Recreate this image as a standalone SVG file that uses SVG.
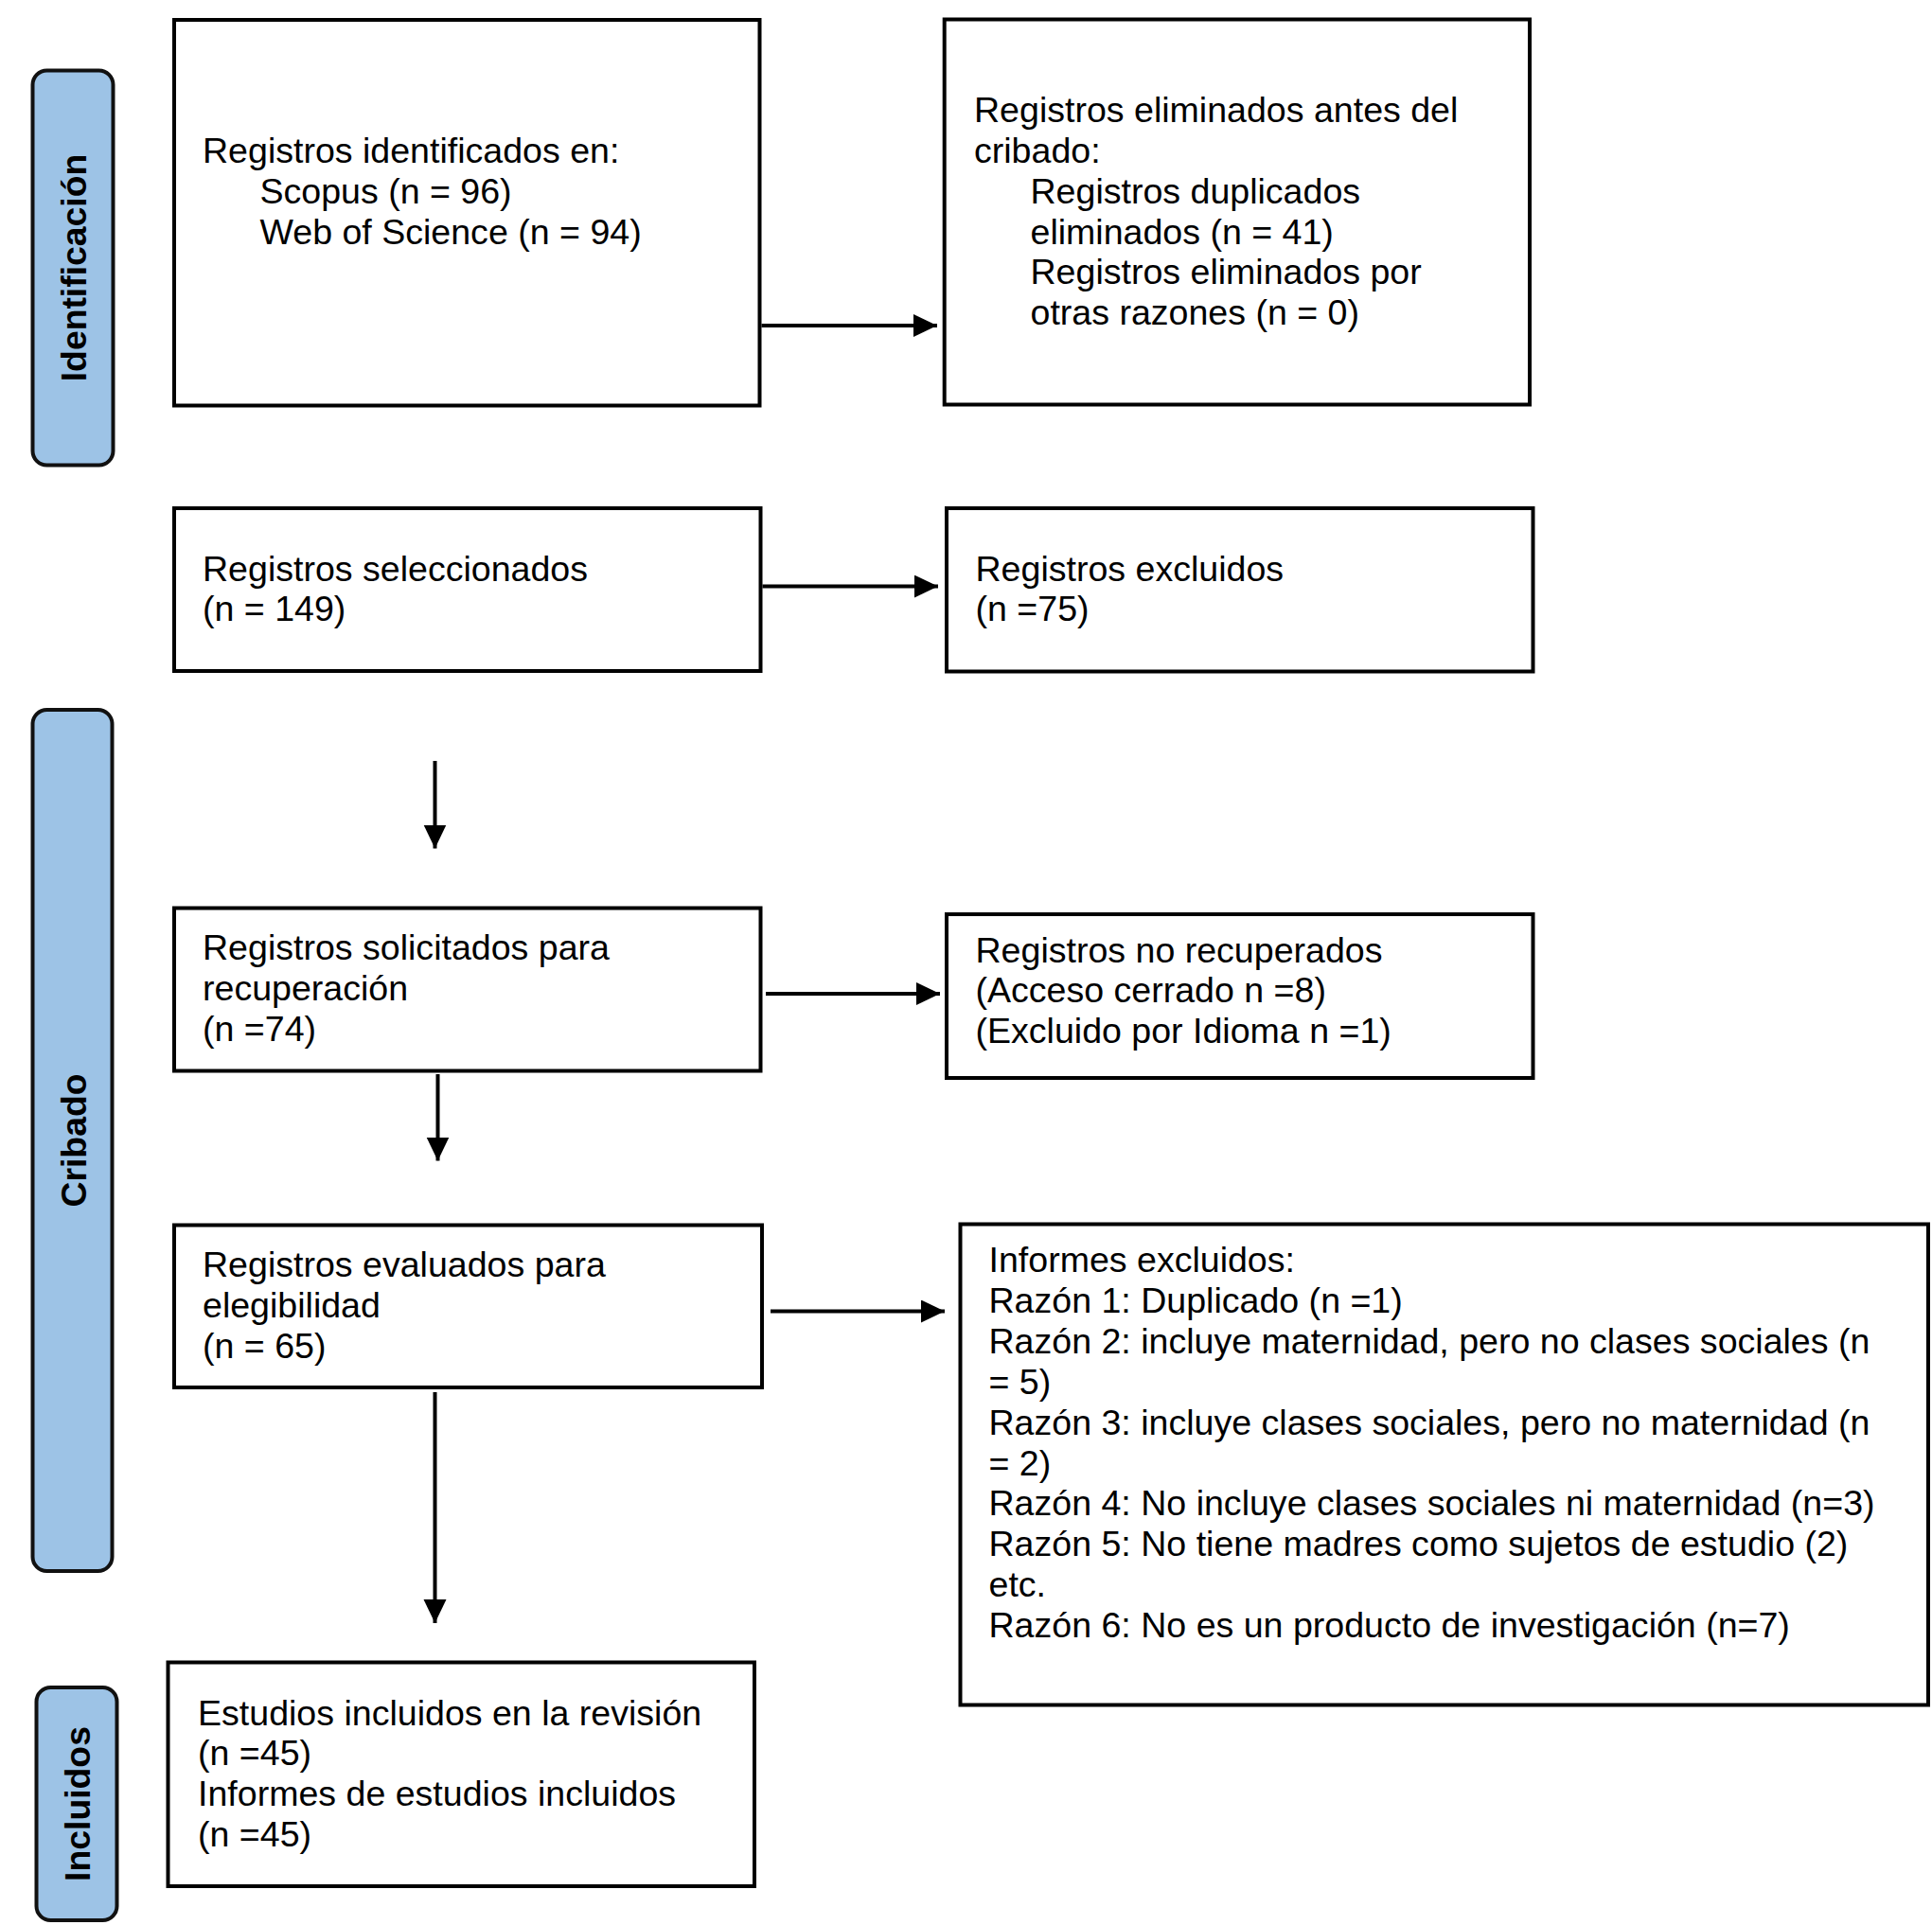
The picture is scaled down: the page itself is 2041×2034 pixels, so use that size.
<svg xmlns="http://www.w3.org/2000/svg" width="2041" height="2034" viewBox="0 0 2041 2034">
<style>
.box{fill:#fff;stroke:#000;stroke-width:4}
.pill{fill:#9DC3E6;stroke:#111;stroke-width:4}
.t{font-family:"Liberation Sans",Arial,sans-serif;font-size:37.55px;fill:#000}
.lab{font-family:"Liberation Sans",Arial,sans-serif;font-size:37.33px;font-weight:bold;fill:#000;text-anchor:middle}
.c{stroke:#000;stroke-width:4;fill:none}
</style>
<defs>
<marker id="ah" markerUnits="userSpaceOnUse" markerWidth="26" markerHeight="25" refX="25" refY="12" orient="auto">
<path d="M0,0 L25,12 L0,24 Z" fill="#000"/>
</marker>
</defs>
<rect width="2041" height="2034" fill="#fff"/>
<g id="phase-identificacion">
<rect class="pill" x="34.5" y="74.5" width="85" height="417" rx="15"/>
<text class="lab" transform="translate(91,283) rotate(-90)">Identificación</text>
</g>
<g id="phase-cribado">
<rect class="pill" x="34.5" y="750" width="84" height="910" rx="15"/>
<text class="lab" transform="translate(91,1205) rotate(-90)">Cribado</text>
</g>
<g id="phase-incluidos">
<rect class="pill" x="38.5" y="1783" width="85" height="246" rx="15"/>
<text class="lab" transform="translate(95,1906) rotate(-90)">Incluidos</text>
</g>
<g id="n-identificados">
<rect class="box" x="184" y="21" width="618.5" height="407.5"/>
<text class="t" x="214" y="171.7">Registros identificados en:</text>
<text class="t" x="274.5" y="214.6">Scopus (n = 96)</text>
<text class="t" x="274.5" y="257.5">Web of Science (n = 94)</text>
</g>
<g id="n-eliminados">
<rect class="box" x="997.7" y="20.5" width="618.3" height="407"/>
<text class="t" x="1029" y="128.8">Registros eliminados antes del</text>
<text class="t" x="1029" y="171.7">cribado:</text>
<text class="t" x="1088.5" y="214.6">Registros duplicados</text>
<text class="t" x="1088.5" y="257.5">eliminados (n = 41)</text>
<text class="t" x="1088.5" y="300.4">Registros eliminados por</text>
<text class="t" x="1088.5" y="343.3">otras razones (n = 0)</text>
</g>
<g id="n-seleccionados">
<rect class="box" x="184" y="537" width="619.5" height="172"/>
<text class="t" x="214" y="613.5">Registros seleccionados</text>
<text class="t" x="214" y="656.4">(n = 149)</text>
</g>
<g id="n-excluidos">
<rect class="box" x="1000" y="537" width="619.5" height="172.5"/>
<text class="t" x="1030.5" y="613.5">Registros excluidos</text>
<text class="t" x="1030.5" y="656.4">(n =75)</text>
</g>
<g id="n-solicitados">
<rect class="box" x="184" y="959.5" width="619.5" height="172"/>
<text class="t" x="214" y="1014">Registros solicitados para</text>
<text class="t" x="214" y="1056.9">recuperación</text>
<text class="t" x="214" y="1099.8">(n =74)</text>
</g>
<g id="n-no-recuperados">
<rect class="box" x="1000" y="966" width="619.5" height="173"/>
<text class="t" x="1030.5" y="1016.5">Registros no recuperados</text>
<text class="t" x="1030.5" y="1059.4">(Acceso cerrado n =8)</text>
<text class="t" x="1030.5" y="1102.3">(Excluido por Idioma n =1)</text>
</g>
<g id="n-evaluados">
<rect class="box" x="184" y="1294.5" width="621" height="171.5"/>
<text class="t" x="214" y="1349">Registros evaluados para</text>
<text class="t" x="214" y="1391.9">elegibilidad</text>
<text class="t" x="214" y="1434.8">(n = 65)</text>
</g>
<g id="n-informes-excluidos">
<rect class="box" x="1014.5" y="1293.5" width="1022.5" height="508"/>
<text class="t" x="1044.5" y="1344">Informes excluidos:</text>
<text class="t" x="1044.5" y="1386.9">Razón 1: Duplicado (n =1)</text>
<text class="t" x="1044.5" y="1429.8">Razón 2: incluye maternidad, pero no clases sociales (n</text>
<text class="t" x="1044.5" y="1472.7">= 5)</text>
<text class="t" x="1044.5" y="1515.6">Razón 3: incluye clases sociales, pero no maternidad (n</text>
<text class="t" x="1044.5" y="1558.5">= 2)</text>
<text class="t" x="1044.5" y="1601.4">Razón 4: No incluye clases sociales ni maternidad (n=3)</text>
<text class="t" x="1044.5" y="1644.3">Razón 5: No tiene madres como sujetos de estudio (2)</text>
<text class="t" x="1044.5" y="1687.2">etc.</text>
<text class="t" x="1044.5" y="1730.1">Razón 6: No es un producto de investigación (n=7)</text>
</g>
<g id="n-incluidos">
<rect class="box" x="177.5" y="1756.5" width="619.5" height="236.5"/>
<text class="t" x="209" y="1822.5">Estudios incluidos en la revisión</text>
<text class="t" x="209" y="1865.4">(n =45)</text>
<text class="t" x="209" y="1908.3">Informes de estudios incluidos</text>
<text class="t" x="209" y="1951.2">(n =45)</text>
</g>
<g id="connectors">
<line class="c" x1="804.5" y1="344" x2="990" y2="344" marker-end="url(#ah)"/>
<line class="c" x1="805.5" y1="619.6" x2="991" y2="619.6" marker-end="url(#ah)"/>
<line class="c" x1="459.5" y1="804" x2="459.5" y2="896.5" marker-end="url(#ah)"/>
<line class="c" x1="809" y1="1050" x2="993" y2="1050" marker-end="url(#ah)"/>
<line class="c" x1="462.5" y1="1135" x2="462.5" y2="1226.5" marker-end="url(#ah)"/>
<line class="c" x1="814" y1="1385.5" x2="998" y2="1385.5" marker-end="url(#ah)"/>
<line class="c" x1="459.5" y1="1471" x2="459.5" y2="1715" marker-end="url(#ah)"/>
</g>
</svg>
